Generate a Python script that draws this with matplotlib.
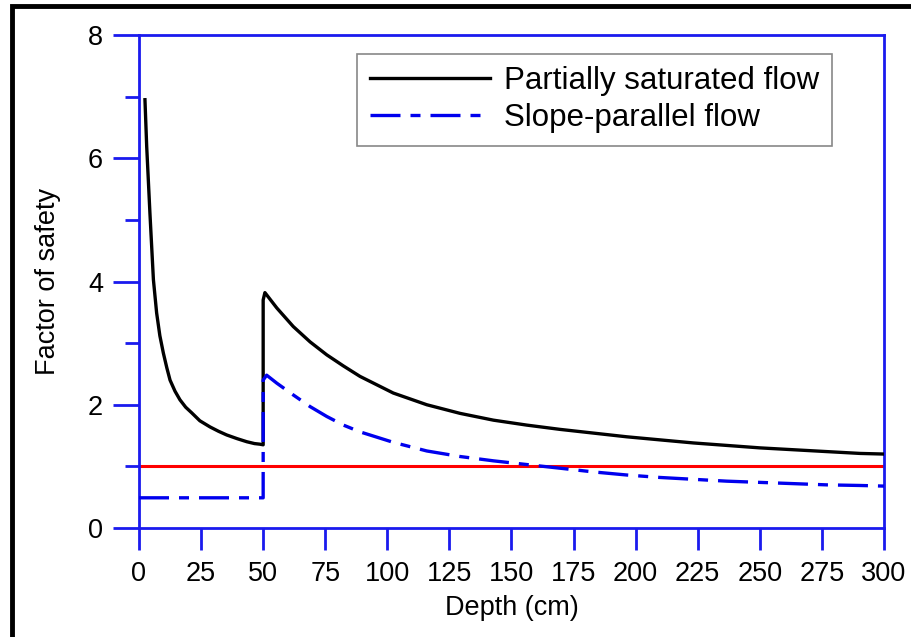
import matplotlib
matplotlib.use("Agg")
import matplotlib.pyplot as plt
from matplotlib.patches import Rectangle

# Partially saturated flow (black)
depth_partial = [2.4, 3.1, 4.4, 5.8, 7.1, 8.4, 9.8, 11.2, 12.5, 14.5, 16.5, 18.8, 21.2, 24.5, 28.6,
                 32.0, 35.3, 39.5, 43.4, 46.5, 48.7, 50.0,
                 50.0, 50.7, 55.5, 62.1, 68.9, 75.6, 82.3, 89.0, 102.4, 115.9, 129.3, 142.7,
                 156.1, 169.6, 183.0, 196.4, 209.8, 223.3, 236.7, 250.1, 263.5, 276.9, 290.4, 300.0]
fs_partial = [6.95, 6.19, 5.11, 4.03, 3.49, 3.12, 2.84, 2.60, 2.40, 2.22, 2.08, 1.96, 1.87, 1.74, 1.64,
              1.57, 1.51, 1.45, 1.40, 1.37, 1.36, 1.35,
              3.70, 3.82, 3.57, 3.27, 3.02, 2.81, 2.63, 2.46, 2.19, 2.00, 1.86, 1.75,
              1.67, 1.60, 1.54, 1.48, 1.43, 1.38, 1.34, 1.30, 1.27, 1.24, 1.21, 1.20]

# Slope-parallel flow (blue)
depth_parallel = [0.0, 50.0, 50.0, 51.4, 55.5, 62.1, 68.9, 75.6, 82.3, 89.0, 102.4, 115.9,
                  129.3, 142.7, 156.1, 169.6, 183.0, 196.4, 209.8, 223.3, 236.7, 250.1, 263.5,
                  276.9, 290.4, 300.0]
fs_parallel = [0.49, 0.49, 2.40, 2.48, 2.35, 2.16, 1.97, 1.81, 1.67, 1.56, 1.39, 1.25,
               1.16, 1.09, 1.03, 0.97, 0.91, 0.86, 0.82, 0.79, 0.76, 0.74, 0.72,
               0.70, 0.69, 0.68]

threshold = 1.0
x_ticks = list(range(0, 301, 25))
y_ticks = [0, 2, 4, 6, 8]
y_minor = [1, 3, 5, 7]

plt.rcParams['font.family'] = ['Liberation Sans', 'DejaVu Sans']

fig = plt.figure(figsize=(9.12, 6.37), dpi=100)
ax = fig.add_axes([139/912, 1-528/637, 745/912, 493/637])

ax.axhline(threshold, color='#ff0000', lw=2.2, zorder=2)
ax.plot(depth_partial, fs_partial, color='black', lw=2.4, label='Partially saturated flow', zorder=3)
ax.plot(depth_parallel, fs_parallel, color='#0000ee', lw=2.4, dashes=(9, 3, 3, 3),
        label='Slope-parallel flow', zorder=4)

ax.set_xlim(0, 300)
ax.set_ylim(0, 8)
ax.set_xticks(x_ticks)
ax.set_yticks(y_ticks)
ax.set_yticks(y_minor, minor=True)

blue = '#1a1aee'
for s in ax.spines.values():
    s.set_color(blue)
    s.set_linewidth(2)
fs = 19.5
ax.tick_params(axis='x', which='major', direction='out', length=15.5, width=2, color=blue,
               labelsize=fs, pad=8)
ax.tick_params(axis='y', which='major', direction='out', length=19, width=2, color=blue,
               labelsize=fs, pad=7)
ax.tick_params(axis='y', which='minor', direction='out', length=10, width=2, color=blue)

ax.set_xlabel('Depth (cm)', fontsize=fs, labelpad=6)
ax.set_ylabel('Factor of safety', fontsize=fs, labelpad=19)

leg = ax.legend(loc='upper right', bbox_to_anchor=(0.93, 0.962), borderaxespad=0, fontsize=22.5,
                handlelength=3.85, frameon=True, fancybox=False, framealpha=1,
                edgecolor='#888888', borderpad=0.4, labelspacing=0.22, handletextpad=0.45)
leg.get_frame().set_linewidth(1.2)

# black frame of the original image (left and top edges visible)
fig.patches.append(Rectangle((12/912, -0.2), 1.2, 1.2 - 6/637,
                             transform=fig.transFigure, fill=False, edgecolor='black',
                             lw=3.5, zorder=10))

fig.savefig('out.png', dpi=100)
